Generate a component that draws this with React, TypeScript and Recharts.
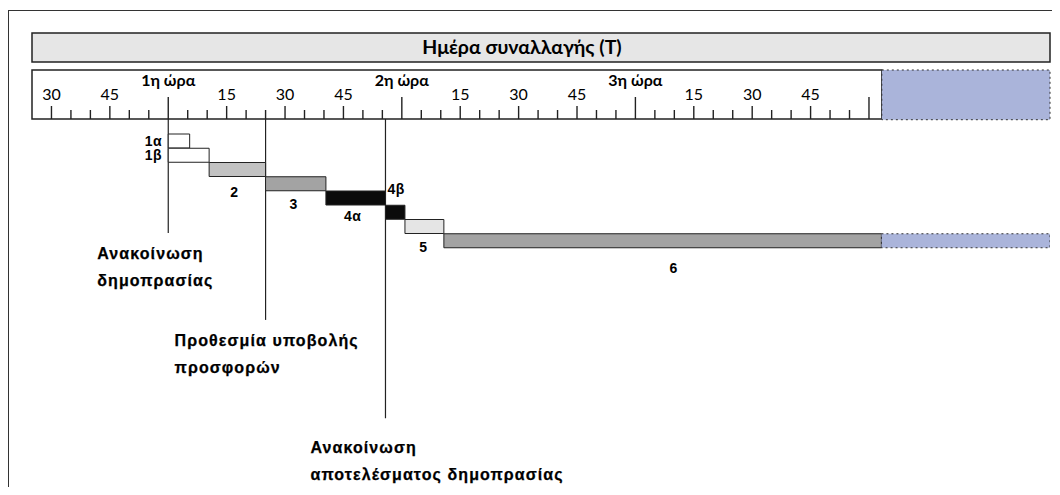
import React from 'react';
import {
  BarChart,
  ComposedChart,
  Bar,
  Scatter,
  XAxis,
  YAxis,
  Cell,
  LabelList,
  ReferenceArea,
  ReferenceLine,
} from 'recharts';

// auction phases, times in minutes from the start of the ruler's hour 0
const phases = ['1α', '1β', '2', '3', '4α', '4β', '5', '6'];
const phaseStart = [60, 60, 70.5, 85, 100.5, 115.8, 120.8, 130.8];
const phaseEnd = [65.5, 70.5, 85, 100.5, 115.8, 120.8, 130.8, 243.2];
// phase 6 runs on (dotted) until the end of the trading day
const dayEnd = 286.5;
const viewStart = 25;

const rulerTicks = [
  30, 35, 40, 45, 50, 55, 60, 65, 70, 75, 80, 85, 90, 95, 100, 105, 110, 115, 120, 125, 130, 135,
  140, 145, 150, 155, 160, 165, 170, 175, 180, 185, 190, 195, 200, 205, 210, 215, 220, 225, 230,
  235, 240,
];
const rulerLabels: Record<number, string> = {
  30: '30', 45: '45', 60: '1η ώρα', 75: '15', 90: '30', 105: '45', 120: '2η ώρα',
  135: '15', 150: '30', 165: '45', 180: '3η ώρα', 195: '15', 210: '30', 225: '45',
};

const milestoneAt = [60, 85, 115.8];
const milestoneDepth = [8, 14.1, 21]; // in row heights below the ruler
const milestoneText = [
  ['Ανακοίνωση', 'δημοπρασίας'],
  ['Προθεσμία υποβολής', 'προσφορών'],
  ['Ανακοίνωση', 'αποτελέσματος δημοπρασίας'],
];

const title = 'Ημέρα συναλλαγής (T)';

// styling
const fills = ['#ffffff', '#ffffff', '#c2c2c2', '#a3a3a3', '#0b0b0b', '#0b0b0b', '#e5e5e5', '#a3a3a3'];
const labelPlace = ['left', 'left', 'below', 'below', 'below', 'above', 'below', 'below'];
const labelDx = [0, 0, -3, -2, -3, 1, -1, 11];
const labelDy = [0, 0, 20, 18, 16, -11, 18, 25];
const msTextDx = [-71, -91, -75];
const msTextDy = [26, 26, 35];
const BLUE = '#aab4da';
const INK = '#222';
const BODY_FONT = '"Liberation Sans", Arial, sans-serif';
const RULER_FONT = 'Lato, "Open Sans", sans-serif';

const W = 1060;
const H = 495;
const TOP = 70; // ruler top
const RULER_H = 49;
const ROW = 14.25;
const PLOT_TOP = TOP + RULER_H;
const PLOT_H = H - PLOT_TOP;
const DEPTH_MAX = PLOT_H / ROW;
const MARGIN_L = 32;
const MARGIN_R = 10;

const data = phases.map((p, i) => ({
  phase: p,
  span: [phaseStart[i], phaseEnd[i]],
  ext: i === phases.length - 1 ? [phaseEnd[i], dayEnd] : undefined,
}));

const milestones = milestoneAt.map((t, i) => ({ t, depth: milestoneDepth[i], idx: i }));

const RulerTick = (props: any) => {
  const { x, y, payload } = props;
  const v = payload.value as number;
  const hour = v % 60 === 0;
  const len = hour ? 22 : v % 15 === 0 ? 13 : 9;
  const label = rulerLabels[v];
  return (
    <g>
      <line x1={x} y1={y} x2={x} y2={y - len} stroke={INK} strokeWidth={1.4} />
      {label && (
        <text
          x={x}
          y={hour ? y - 33 : y - 19}
          textAnchor="middle"
          fontFamily={RULER_FONT}
          fontWeight={hour ? 700 : 400}
          fontSize={hour ? 16 : 16}
          fill="#000"
        >
          {label}
        </text>
      )}
    </g>
  );
};

const PhaseLabel = (props: any) => {
  const vb = props.viewBox || {};
  const x = props.x ?? vb.x;
  const y = props.y ?? vb.y;
  const w = props.width ?? vb.width;
  const h = props.height ?? vb.height;
  const i = props.index as number;
  const place = labelPlace[i];
  let tx = x + w / 2 + labelDx[i];
  let ty = y + h + labelDy[i];
  let anchor = 'middle';
  if (place === 'left') {
    tx = x - 6;
    ty = y + h / 2 + 4.5;
    anchor = 'end';
  } else if (place === 'above') {
    ty = y + labelDy[i];
  }
  return (
    <text
      x={tx}
      y={ty}
      textAnchor={anchor}
      fontFamily={BODY_FONT}
      fontWeight={700}
      fontSize={14}
      letterSpacing={0.6}
      fill="#000"
    >
      {props.value}
    </text>
  );
};

const TitleLabel = (p: any) => {
  const vb = p.viewBox;
  return (
    <text
      x={vb.x + vb.width / 2 - 19}
      y={vb.y + vb.height / 2 + 6.5}
      textAnchor="middle"
      fontFamily={RULER_FONT}
      fontWeight={700}
      fontSize={19.5}
      fill="#000"
    >
      {title}
    </text>
  );
};

const MilestoneText = (p: any) => {
  const i = p.payload?.idx ?? p.index ?? 0;
  const x = p.cx + msTextDx[i];
  return (
    <text
      x={x}
      y={p.cy + msTextDy[i]}
      fontFamily={BODY_FONT}
      fontWeight={700}
      fontSize={16}
      letterSpacing={1.1}
      fill="#000"
      stroke="#000"
      strokeWidth={0.25}
    >
      <tspan x={x}>{milestoneText[i][0]}</tspan>
      <tspan x={x} dy={27}>
        {milestoneText[i][1]}
      </tspan>
    </text>
  );
};

export default function App() {
  const layer: React.CSSProperties = { position: 'absolute', left: 0, top: 0 };
  return (
    <div style={{ position: 'relative', width: W, height: H, margin: -8, overflow: 'hidden', background: '#fff' }}>
      <div
        style={{
          position: 'absolute',
          left: 8,
          top: 10,
          width: W,
          height: H,
          borderLeft: '1.5px solid #333',
          borderTop: '1.5px solid #333',
        }}
      />

      {/* frame, title and milestones: time against depth below the ruler */}
      <div style={layer}>
        <ComposedChart
          width={W}
          height={H}
          data={milestones}
          margin={{ top: PLOT_TOP, right: MARGIN_R, bottom: 0, left: MARGIN_L }}
        >
          <XAxis type="number" dataKey="t" domain={[viewStart, dayEnd]} allowDataOverflow hide />
          <YAxis type="number" dataKey="depth" domain={[0, DEPTH_MAX]} allowDataOverflow reversed hide />

          <ReferenceArea
            x1={viewStart}
            x2={dayEnd}
            y1={-(PLOT_TOP - 33) / ROW}
            y2={-(PLOT_TOP - 62) / ROW}
            fill="#e6e6e6"
            fillOpacity={1}
            stroke={INK}
            strokeWidth={1.5}
            ifOverflow="visible"
            label={<TitleLabel />}
          />
          <ReferenceArea
            x1={viewStart}
            x2={phaseEnd[phaseEnd.length - 1] + 0.1}
            y1={-RULER_H / ROW}
            y2={0}
            fill="none"
            stroke={INK}
            strokeWidth={1.5}
            ifOverflow="visible"
          />
          <ReferenceArea
            x1={phaseEnd[phaseEnd.length - 1] + 0.1}
            x2={dayEnd}
            y1={-RULER_H / ROW}
            y2={0.05}
            fill={BLUE}
            fillOpacity={1}
            stroke="#333"
            strokeDasharray="2 3"
            ifOverflow="visible"
          />

          {milestoneAt.map((m, i) => (
            <ReferenceLine
              key={'ml' + i}
              segment={[
                { x: m, y: 0 },
                { x: m, y: milestoneDepth[i] },
              ]}
              stroke={INK}
              strokeWidth={1.2}
              ifOverflow="visible"
            />
          ))}
          <Scatter dataKey="depth" isAnimationActive={false} shape={<MilestoneText />} />
        </ComposedChart>
      </div>

      {/* ruler ticks and the phase bars */}
      <div style={layer}>
        <BarChart
          width={W}
          height={H}
          data={data}
          layout="vertical"
          margin={{ top: TOP, right: MARGIN_R, bottom: 0, left: MARGIN_L }}
          barCategoryGap={0}
          barGap={0}
        >
          <XAxis
            type="number"
            orientation="top"
            domain={[viewStart, dayEnd]}
            allowDataOverflow
            ticks={rulerTicks}
            interval={0}
            height={RULER_H}
            axisLine={false}
            tickLine={false}
            tickSize={0}
            tickMargin={0}
            tick={<RulerTick />}
          />
          <YAxis yAxisId="rows" type="category" dataKey="phase" hide padding={{ top: 15, bottom: PLOT_H - 15 - ROW * 8 }} />
          <YAxis yAxisId="rowsExt" type="category" dataKey="phase" hide padding={{ top: 15, bottom: PLOT_H - 15 - ROW * 8 }} />

          <Bar dataKey="span" yAxisId="rows" isAnimationActive={false} stroke={INK} strokeWidth={1}>
            {data.map((d, i) => (
              <Cell key={d.phase} fill={fills[i]} />
            ))}
            <LabelList dataKey="phase" content={<PhaseLabel />} />
          </Bar>
          <Bar
            dataKey="ext"
            yAxisId="rowsExt"
            isAnimationActive={false}
            fill={BLUE}
            stroke="#333"
            strokeDasharray="2 3"
          />
        </BarChart>
      </div>
    </div>
  );
}
